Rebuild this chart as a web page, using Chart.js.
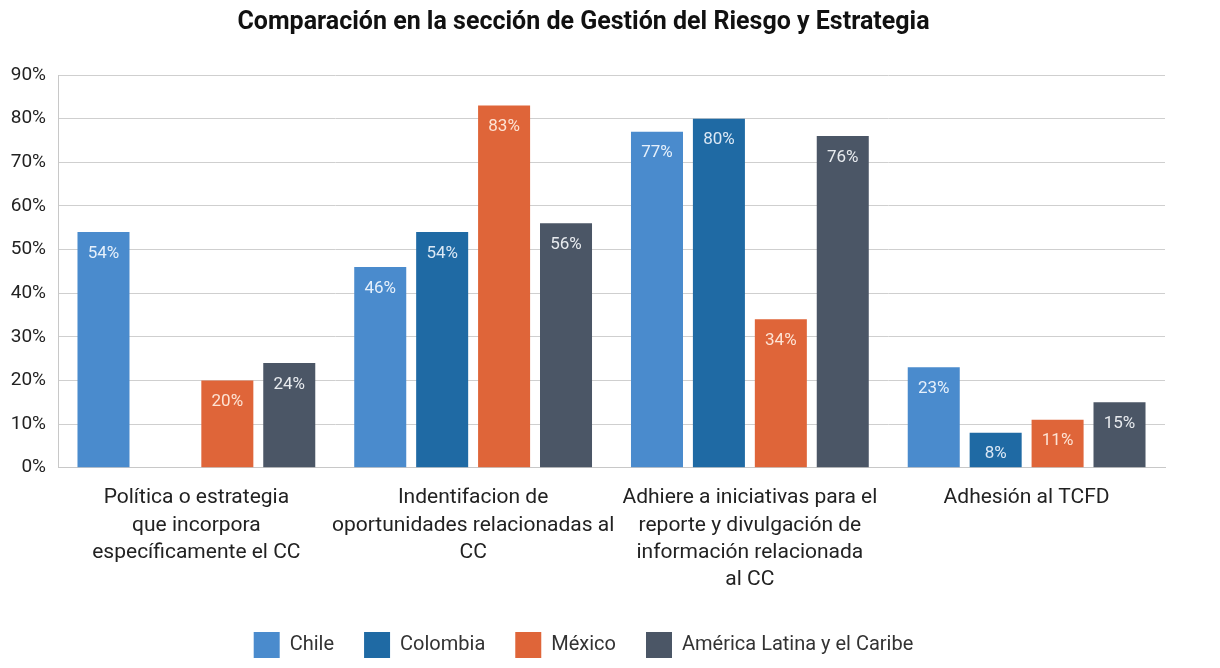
<!DOCTYPE html>
<html lang="es">
<head>
<meta charset="UTF-8">
<title>Gestión del Riesgo y Estrategia</title>
<script src="https://cdn.jsdelivr.net/npm/chart.js"></script>
<style>
  html, body { margin: 0; padding: 0; background: #fff; }
  #wrap { width: 1220px; height: 668px; }
</style>
</head>
<body>
<div id="wrap"><canvas id="chart" width="1220" height="668"></canvas></div>
<script>
// categorias (multilinea)
const categorias = [
    ["Política o estrategia", "que incorpora", "específicamente el CC"],
    ["Indentifacion de", "oportunidades relacionadas al", "CC"],
    ["Adhiere a iniciativas para el", "reporte y divulgación de", "información relacionada", "al CC"],
    ["Adhesión al TCFD"]
];
const chile = [54, 46, 77, 23];
const colombia = [null, 54, 80, 8];
const mexico = [20, 83, 34, 11];
const alc = [24, 56, 76, 15];
const series = ["Chile", "Colombia", "México", "América Latina y el Caribe"];
const colores = ["#4a8bcd", "#1f6aa4", "#df6539", "#4b5666"];
const coloresTexto = ["#e6f0fb", "#dbe8f5", "#fde3d4", "#e8ebef"];

// etiquetas dentro de las barras
const etiquetas = {
    id: 'etiquetas',
    afterDatasetsDraw(chart) {
        const ctx = chart.ctx;
        ctx.save();
        ctx.font = "17px Roboto";
        ctx.textAlign = "center";
        ctx.textBaseline = "top";
        chart.data.datasets.forEach((ds, i) => {
            const meta = chart.getDatasetMeta(i);
            meta.data.forEach((bar, j) => {
                const v = ds.data[j];
                if (v === null) return;
                ctx.fillStyle = coloresTexto[i];
                ctx.fillText(v + "%", bar.x, bar.y + 13);
            });
        });
        ctx.restore();
    }
};

const ctx = document.getElementById('chart').getContext('2d');
new Chart(ctx, {
    type: 'bar',
    data: {
        labels: categorias,
        datasets: [chile, colombia, mexico, alc].map((d, i) => ({
            label: series[i],
            data: d,
            backgroundColor: colores[i],
            categoryPercentage: 0.895,
            barPercentage: 0.84
        }))
    },
    options: {
        responsive: false,
        animation: false,
        layout: { padding: { left: 2, right: 55, top: 6, bottom: 0 } },
        plugins: {
            title: {
                display: true,
                text: "Comparación en la sección de Gestión del Riesgo y Estrategia",
                color: "#111",
                font: { family: "Roboto", size: 25, weight: "bold" },
                padding: { top: 2, bottom: 37 }
            },
            legend: {
                position: 'bottom',
                labels: {
                    boxWidth: 26,
                    boxHeight: 26,
                    padding: 30,
                    color: "#333",
                    font: { family: "Roboto", size: 20 }
                }
            },
            tooltip: { enabled: false }
        },
        scales: {
            x: {
                grid: { display: false },
                border: { color: "#c8c8c8" },
                ticks: {
                    color: "#222",
                    font: { family: "Roboto", size: 21, lineHeight: 1.29 },
                    maxRotation: 0,
                    autoSkip: false,
                    padding: 9
                }
            },
            y: {
                min: 0,
                max: 90,
                ticks: {
                    stepSize: 10,
                    color: "#222",
                    font: { family: "Roboto", size: 19 },
                    padding: 12,
                    callback: v => v + "%"
                },
                grid: { color: "#cfcfcf", drawTicks: false },
                border: { color: "#c8c8c8" },
                afterFit: s => { s.width = 56; }
            }
        }
    },
    plugins: [etiquetas]
});
</script>
</body>
</html>
